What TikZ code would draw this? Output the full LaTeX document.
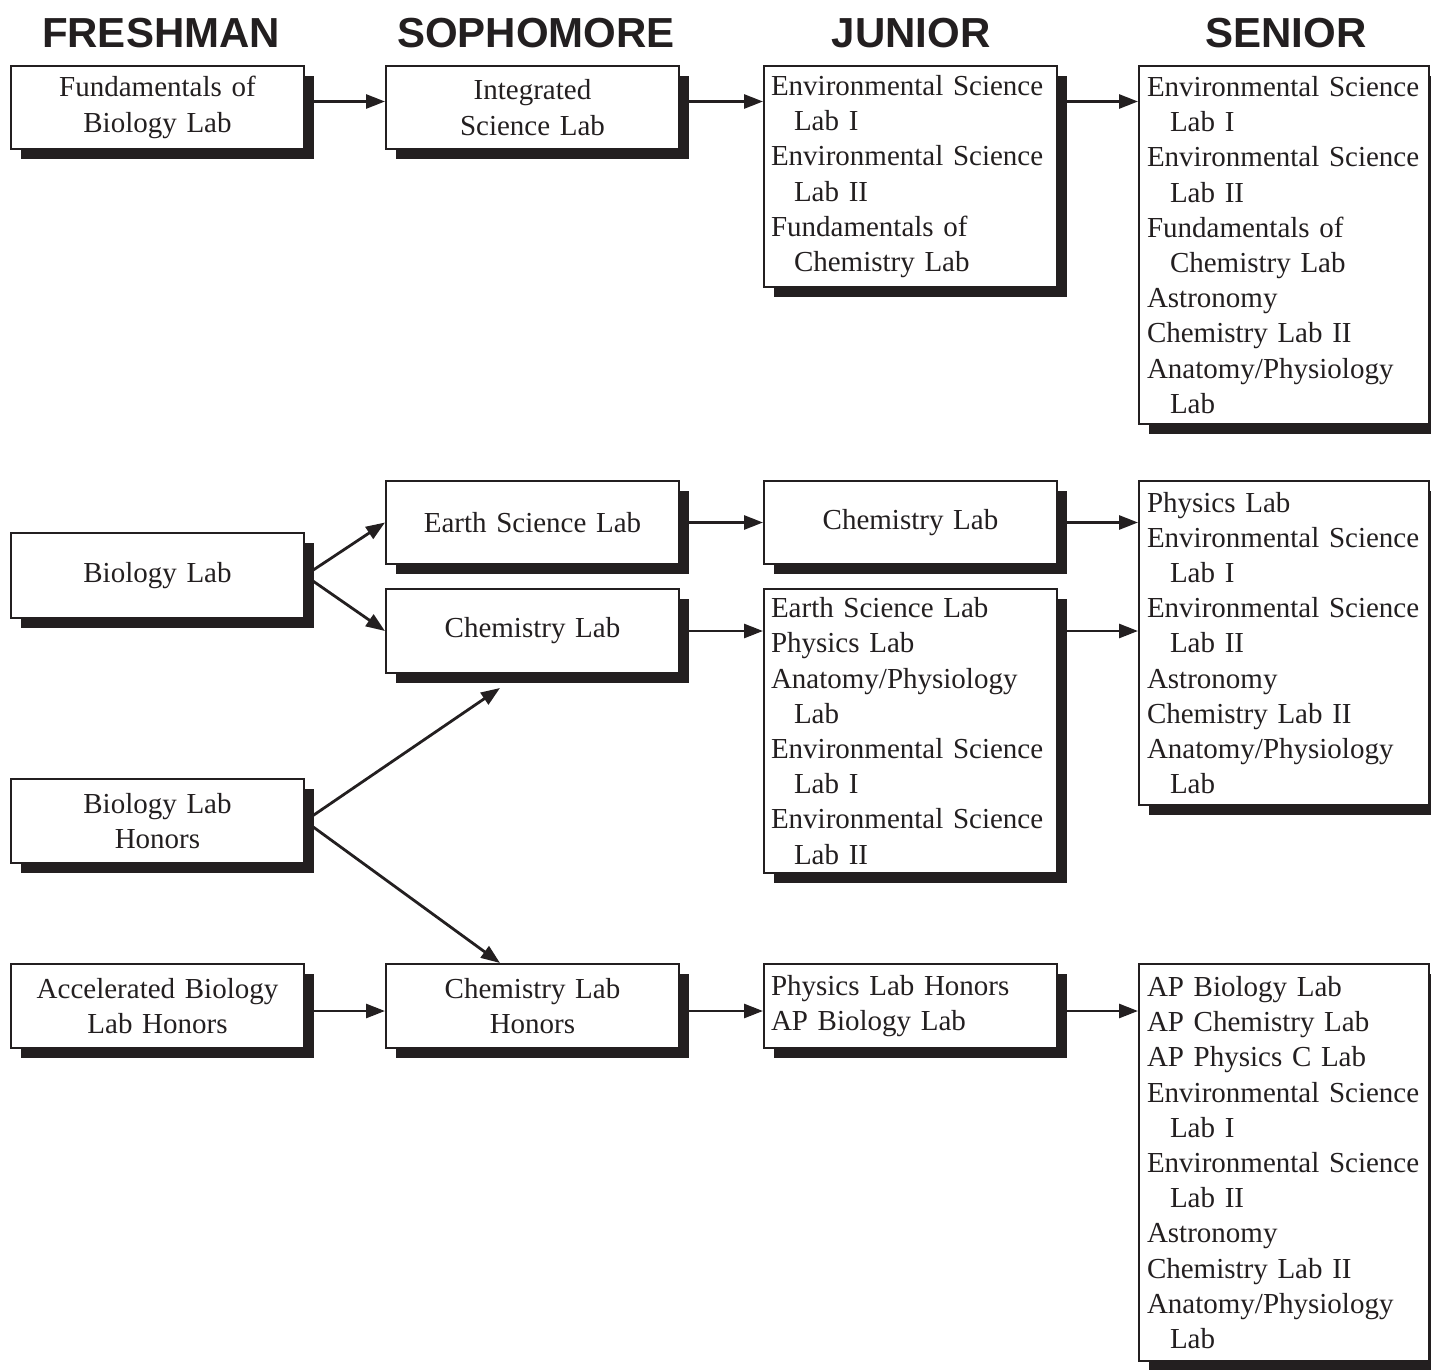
\documentclass[tikz,border=0pt]{standalone}
\usepackage{fontspec}
\setmainfont{Liberation Serif}
\setsansfont{Liberation Sans}
\usetikzlibrary{arrows.meta}
\usetikzlibrary{shadows}

\definecolor{ink}{RGB}{35,31,32}
\newcommand{\labfont}{\fontsize{14.5}{17.6}\selectfont}
\newcommand{\headfont}{\sffamily\bfseries\fontsize{21}{25}\selectfont}
\newcommand{\wrapind}{\hspace*{11.5pt}}

\begin{document}
\begin{tikzpicture}[x = 0.5pt, y = -0.5pt]
	\tikzstyle{headStyle} = [text = ink, font = \headfont, inner sep = 0pt]
	\tikzstyle{labBox} = [draw = ink, line width = 1pt, fill = white, text = ink, font = \labfont, anchor = north west, inner ysep = 3pt, drop shadow = {shadow xshift = 5pt, shadow yshift = -5pt, opacity = 1, fill = ink}]
	\tikzstyle{midBox} = [labBox, align = center, inner xsep = 4pt, text width = 138.5pt, minimum width = 146.5pt]
	\tikzstyle{listBox} = [labBox, align = left, inner xsep = 3.5pt, text width = 139.5pt, minimum width = 146.5pt]
	\tikzstyle{seniorBox} = [labBox, align = left, inner xsep = 4pt, text width = 137pt, minimum width = 145pt]
	\tikzstyle{linkArrow} = [draw = ink, line width = 1.4pt, -{Triangle[length = 9.5pt, width = 7pt]}]
	\useasboundingbox (0,0) rectangle (1431,1370);
	% year headings
	\node[headStyle] (hFresh) at (161,33) {FRESHMAN};
	\node[headStyle] (hSoph) at (536,33) {SOPHOMORE};
	\node[headStyle] (hJun) at (911,33) {JUNIOR};
	\node[headStyle] (hSen) at (1286,33) {SENIOR};
	% first track
	\node[midBox, minimum height = 41.5pt] (fundBio) at (10,65) {Fundamentals of\\Biology Lab};
	\node[midBox, minimum height = 41.5pt] (intSci) at (385,65) {Integrated\\Science Lab};
	\node[listBox, minimum height = 110.5pt] (junEnv) at (763,65) {Environmental Science\\\wrapind Lab I\\Environmental Science\\\wrapind Lab II\\Fundamentals of\\\wrapind Chemistry Lab};
	\node[seniorBox, minimum height = 179pt] (senEnv) at (1138,65) {Environmental Science\\\wrapind Lab I\\Environmental Science\\\wrapind Lab II\\Fundamentals of\\\wrapind Chemistry Lab\\Astronomy\\Chemistry Lab II\\Anatomy/Physiology\\\wrapind Lab};
	% second track
	\node[midBox, minimum height = 42.5pt] (bio) at (10,532) {Biology Lab};
	\node[midBox, minimum height = 41.5pt] (earth) at (385,480) {Earth Science Lab};
	\node[midBox, minimum height = 42pt] (chem) at (385,588) {Chemistry Lab};
	\node[midBox, minimum height = 41.5pt] (junChem) at (763,480) {Chemistry Lab};
	\node[listBox, minimum height = 142pt] (junMix) at (763,588) {Earth Science Lab\\Physics Lab\\Anatomy/Physiology\\\wrapind Lab\\Environmental Science\\\wrapind Lab I\\Environmental Science\\\wrapind Lab II};
	\node[seniorBox, minimum height = 162pt] (senMix) at (1138,480) {Physics Lab\\Environmental Science\\\wrapind Lab I\\Environmental Science\\\wrapind Lab II\\Astronomy\\Chemistry Lab II\\Anatomy/Physiology\\\wrapind Lab};
	\node[midBox, minimum height = 42pt] (bioHon) at (10,778) {Biology Lab\\Honors};
	% honors track
	\node[midBox, minimum height = 42pt] (accBio) at (10,963) {Accelerated Biology\\Lab Honors};
	\node[midBox, minimum height = 42pt] (chemHon) at (385,963) {Chemistry Lab\\Honors};
	\node[listBox, minimum height = 42pt] (junAP) at (763,963) {Physics Lab Honors\\AP Biology Lab};
	\node[seniorBox, minimum height = 198.5pt] (senAP) at (1138,963) {AP Biology Lab\\AP Chemistry Lab\\AP Physics C Lab\\Environmental Science\\\wrapind Lab I\\Environmental Science\\\wrapind Lab II\\Astronomy\\Chemistry Lab II\\Anatomy/Physiology\\\wrapind Lab};
	% arrows
	\draw[linkArrow] ([yshift = 3pt]fundBio.east) -- ([yshift = 3pt]intSci.west);
	\draw[linkArrow] ([yshift = 3pt]intSci.east) -- ([yshift = 3pt]intSci.east -| junEnv.west);
	\draw[linkArrow] ([yshift = 3pt]intSci.east -| junEnv.east) -- ([yshift = 3pt]intSci.east -| senEnv.west);
	\draw[linkArrow] (bio.east) -- (earth.west);
	\draw[linkArrow] (bio.east) -- (chem.west);
	\draw[linkArrow] (earth.east) -- (junChem.west);
	\draw[linkArrow] (junChem.east) -- (junChem.east -| senMix.west);
	\draw[linkArrow] (chem.east) -- (chem.east -| junMix.west);
	\draw[linkArrow] (chem.east -| junMix.east) -- (chem.east -| senMix.west);
	\draw[linkArrow] (bioHon.east) -- ([xshift = 57.5pt, yshift = -7pt]chem.south west);
	\draw[linkArrow] (bioHon.east) -- ([xshift = 57.5pt]chemHon.north west);
	\draw[linkArrow] ([yshift = -2.5pt]accBio.east) -- ([yshift = -2.5pt]chemHon.west);
	\draw[linkArrow] ([yshift = -2.5pt]chemHon.east) -- ([yshift = -2.5pt]junAP.west);
	\draw[linkArrow] ([yshift = -2.5pt]junAP.east) -- ([yshift = -2.5pt]junAP.east -| senAP.west);
\end{tikzpicture}
\end{document}
